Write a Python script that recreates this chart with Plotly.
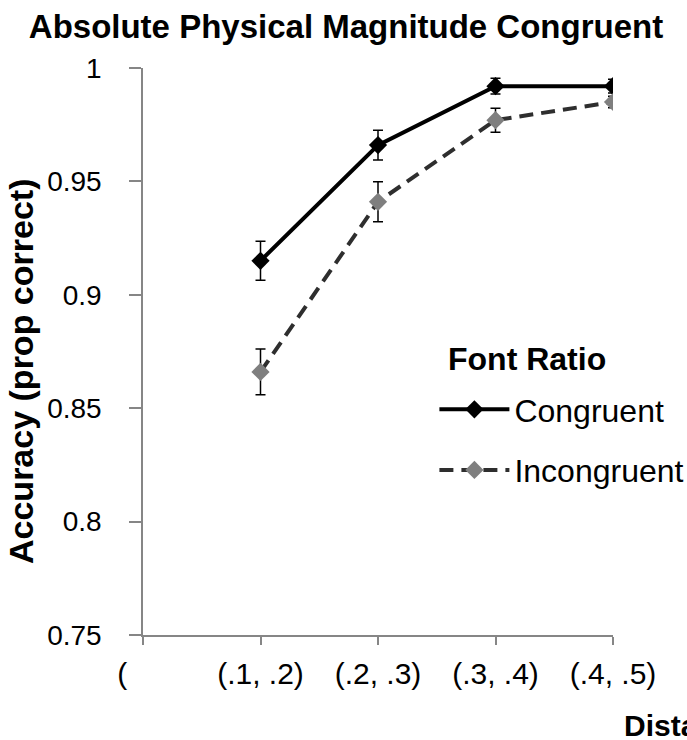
import plotly.graph_objects as go

NB = "\u00a0"
categories = ["(" + NB * 5, "(.1, .2)", "(.2, .3)", "(.3, .4)", "(.4, .5)"]
cat_pos = [0, 1, 2, 3, 4]
congruent = [None, 0.915, 0.966, 0.992, 0.992]
congruent_err = [None, 0.0086, 0.0066, 0.0035, 0.003]
incongruent = [None, 0.866, 0.941, 0.977, 0.985]
incongruent_err = [None, 0.0101, 0.0088, 0.0053, 0.0025]
y_ticks = [0.75, 0.8, 0.85, 0.9, 0.95, 1.0]

FONT = "Liberation Sans, Arial, sans-serif"
W, H = 687, 740
L, R, T, B = 143, 74, 68, 105
PW, PH = W - L - R, H - T - B

def px(x):
    return (x - L) / PW

def py(y):
    return 1 - (y - T) / PH

fig = go.Figure()
fig.add_trace(go.Scatter(
    x=cat_pos, y=congruent, name="Congruent", mode="lines+markers",
    line=dict(color="black", width=4),
    marker=dict(symbol="diamond", size=14, color="black"),
    error_y=dict(type="data", array=congruent_err, color="black", thickness=1.5, width=5),
    legendgroup="a",
))
fig.add_trace(go.Scatter(
    x=cat_pos, y=incongruent, name="Incongruent", mode="lines+markers",
    line=dict(color="#2e2e2e", width=4, dash="14px,8px"),
    marker=dict(symbol="diamond", size=14, color="#7f7f7f"),
    error_y=dict(type="data", array=incongruent_err, color="black", thickness=1.5, width=5),
    legendgroup="b",
))

fig.update_layout(
    width=W, height=H,
    paper_bgcolor="white", plot_bgcolor="white",
    margin=dict(l=L, r=R, t=T, b=B, autoexpand=False),
    font=dict(family=FONT, size=30, color="black"),
    title=dict(text="<b>Absolute Physical Magnitude Congruent</b>",
               x=346 / W, xanchor="center", y=1 - 26 / H, yanchor="middle",
               font=dict(size=33, family=FONT)),
    showlegend=True,
    legend=dict(
        x=0.62, y=py(382), xanchor="left", yanchor="top",
        bgcolor="rgba(0,0,0,0)", tracegroupgap=16,
        font=dict(size=32), itemwidth=70,
    ),
    xaxis=dict(
        range=[0, 4], tickvals=cat_pos, ticktext=categories,
        showline=True, linecolor="#868686", linewidth=1.5,
        ticks="outside", ticklen=8, tickcolor="#868686", tickwidth=1.5,
        showgrid=False, zeroline=False,
        tickfont=dict(size=30), ticklabelstandoff=3,
    ),
    yaxis=dict(
        range=[0.75, 1.0], tickvals=y_ticks,
        showline=True, linecolor="#868686", linewidth=1.5,
        ticks="outside", ticklen=12, tickcolor="#868686", tickwidth=1.5,
        showgrid=False, zeroline=False,
        tickfont=dict(size=28), ticklabelstandoff=22,
    ),
)

# legend title
fig.add_annotation(
    text="<b>Font Ratio</b>", xref="paper", yref="paper",
    x=px(446), y=py(359), xanchor="left", yanchor="middle",
    showarrow=False, font=dict(size=32, family=FONT),
)
# y axis title
fig.add_annotation(
    text="<b>Accuracy (prop correct)</b>", xref="paper", yref="paper",
    x=px(21), y=py(372),
    xanchor="center", yanchor="middle", textangle=-90,
    showarrow=False, font=dict(size=34, family=FONT),
)
# x axis title (cut off at right edge as in the reference)
fig.add_annotation(
    text="<b>Distance</b>", xref="paper", yref="paper",
    x=px(622), y=py(725),
    xanchor="left", yanchor="middle",
    showarrow=False, font=dict(size=30, family=FONT),
)

fig.write_html("out.html", config={"displayModeBar": False},
               post_script="document.body.style.margin='0';")
